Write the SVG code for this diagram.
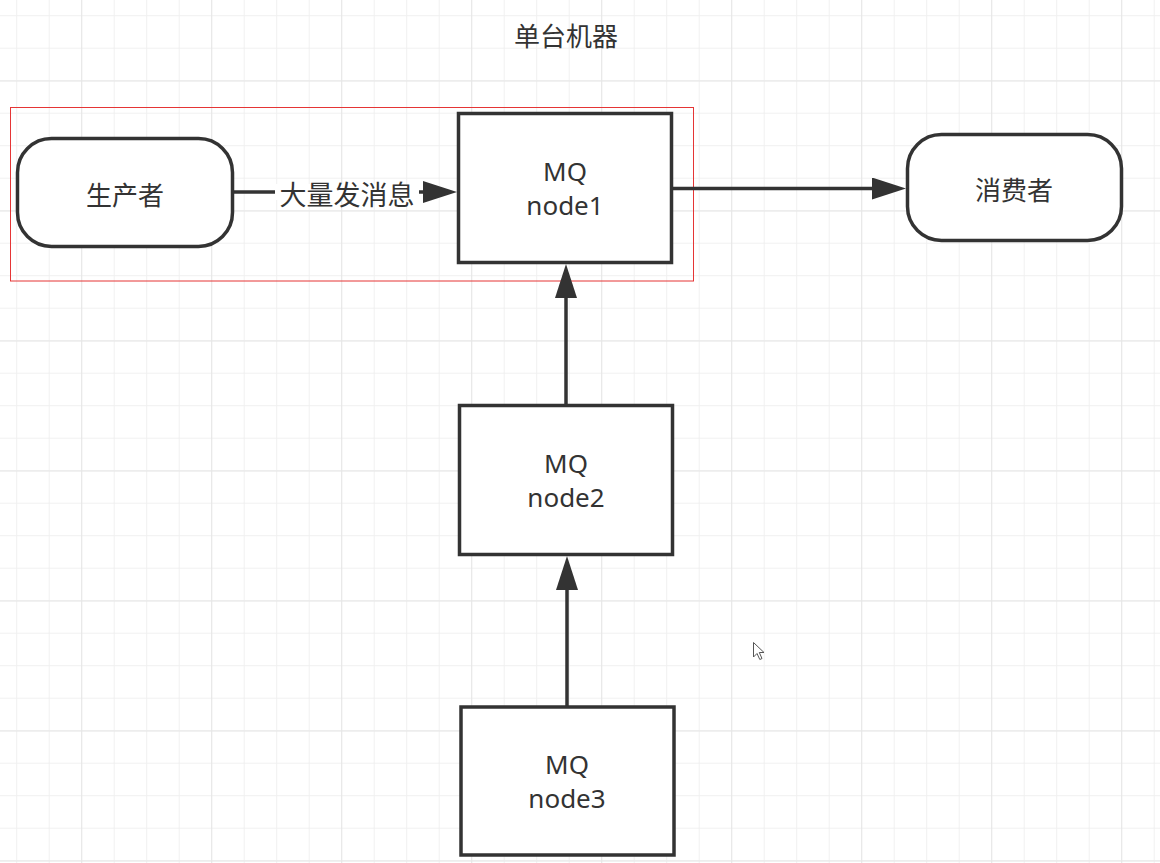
<svg xmlns="http://www.w3.org/2000/svg" width="1160" height="863" viewBox="0 0 1160 863">
  <defs>
    <pattern id="gridMinor" patternUnits="userSpaceOnUse" x="16.2" y="15.2" width="32.5" height="32.5">
      <rect x="0" y="0" width="1" height="32.5" fill="#f0f0f0"/>
      <rect x="0" y="0" width="32.5" height="1" fill="#f0f0f0"/>
    </pattern>
    <pattern id="gridMajor" patternUnits="userSpaceOnUse" x="81.2" y="80.5" width="130" height="130">
      <rect x="0" y="0" width="1" height="130" fill="#e6e6e6"/>
      <rect x="0" y="0" width="130" height="1" fill="#e6e6e6"/>
    </pattern>
    <marker id="arrow" viewBox="0 0 34 22" refX="10" refY="11" markerWidth="34" markerHeight="22" markerUnits="userSpaceOnUse" orient="auto">
      <path d="M0,0 L34,11 L0,22 Z" fill="#333333"/>
    </marker>
    <style>
      .node { fill: #ffffff; stroke: #333333; stroke-width: 3.5; }
      .edge { fill: none; stroke: #333333; stroke-width: 3.5; marker-end: url(#arrow); }
      .txt { font-family: "Noto Sans", "Noto Sans CJK SC", sans-serif; font-size: 26px; fill: #333333; text-anchor: middle; }
      .cjk { font-family: "Noto Sans CJK SC", sans-serif; }
    </style>
  </defs>

  <rect x="0" y="0" width="1160" height="863" fill="#ffffff"/>
  <rect x="0" y="0" width="1160" height="863" fill="url(#gridMinor)"/>
  <rect x="0" y="0" width="1160" height="863" fill="url(#gridMajor)"/>

  <g id="title">
    <text class="txt cjk" x="566" y="34" dominant-baseline="central">单台机器</text>
  </g>

  <g id="selection">
    <rect x="10.5" y="107.5" width="683" height="173.5" fill="none" stroke="#e53535" stroke-width="1"/>
  </g>

  <g id="connectors">
    <path class="edge" d="M232,192 L433,192"/>
    <path class="edge" d="M672,188.5 L882,188.5"/>
    <path class="edge" d="M566,405 L566,288"/>
    <path class="edge" d="M567,707 L567,580"/>
    <g id="label-send">
      <rect x="275" y="184" width="144" height="16" fill="#ffffff"/>
      <text class="txt cjk" x="347" y="193" dominant-baseline="central" style="font-size:27px">大量发消息</text>
    </g>
  </g>

  <g id="producer">
    <rect class="node" x="17.5" y="138.5" width="215" height="108" rx="34" ry="34"/>
    <text class="txt cjk" x="125" y="193" dominant-baseline="central">生产者</text>
  </g>

  <g id="node1">
    <rect class="node" x="458.5" y="113.5" width="213" height="149"/>
    <text class="txt" x="565" y="181">MQ</text>
    <text class="txt" x="565" y="215">node1</text>
  </g>

  <g id="consumer">
    <rect class="node" x="907.5" y="134.5" width="214" height="106" rx="34" ry="34"/>
    <text class="txt cjk" x="1014" y="188" dominant-baseline="central">消费者</text>
  </g>

  <g id="node2">
    <rect class="node" x="459.5" y="405.5" width="213" height="149"/>
    <text class="txt" x="566" y="473">MQ</text>
    <text class="txt" x="566" y="507">node2</text>
  </g>

  <g id="node3">
    <rect class="node" x="461" y="707" width="213" height="148"/>
    <text class="txt" x="567" y="774">MQ</text>
    <text class="txt" x="567" y="808">node3</text>
  </g>

  <g id="cursor">
    <path d="M753.5,642.5 L753.5,657 L757,653.5 L759.8,659.5 L762,658.5 L759.3,652.5 L764,652.5 Z" fill="#ffffff" stroke="#555555" stroke-width="1"/>
  </g>
</svg>
